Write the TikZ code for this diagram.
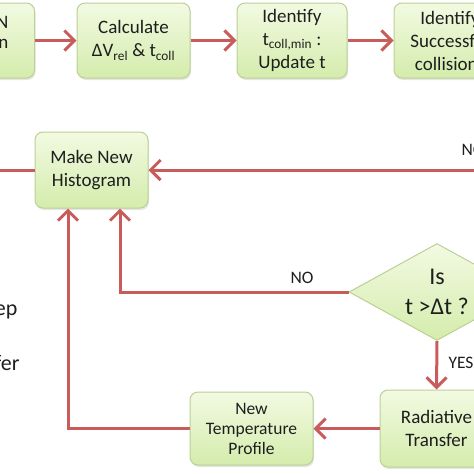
\documentclass[tikz,border=0pt]{standalone}
\usepackage{fontspec}
\setmainfont{Carlito}
\usepackage{tikz}
\usetikzlibrary{arrows.meta,shapes.geometric,shadows}
\definecolor{boxtop}{RGB}{242,250,226}
\definecolor{boxbot}{RGB}{212,236,172}
\definecolor{boxline}{RGB}{188,208,148}
\definecolor{flowred}{RGB}{200,92,90}
\definecolor{ink}{RGB}{30,30,30}

\begin{document}
\begin{tikzpicture}[x=1pt,y=-1pt,
  box/.style={rectangle, rounded corners=8pt, draw=boxline, line width=1pt,
    top color=boxtop, bottom color=boxbot, minimum width=113pt, minimum height=75pt,
    align=center, text=ink, font=\fontsize{19}{23}\selectfont,
    drop shadow={opacity=0.2, shadow xshift=1pt, shadow yshift=-2pt}},
  smallbox/.style={box, minimum width=123pt, minimum height=73pt, font=\fontsize{17.5}{20}\selectfont},
  test/.style={diamond, aspect=1.81, minimum width=176pt, minimum height=97pt, inner sep=0pt,
    draw=boxline, line width=1pt, top color=boxtop, bottom color=boxbot,
    align=center, text=ink, font=\fontsize{24}{30}\selectfont},
  line/.style={draw=flowred, line width=3pt},
  arr/.style={line, -{Straight Barb[length=10pt,width=20pt]}},
  lab/.style={text=ink, font=\fontsize{17.5}{20}\selectfont},
  side/.style={text=ink, font=\fontsize{22}{26}\selectfont}]
\clip (0,0) rectangle (474,474);

\node[box, anchor=east] (sort) at (35,40.5) {};
\node[text=ink, font=\fontsize{19}{20}\selectfont, align=right, anchor=east] (sorttext) at (12,32) {N\\n};
\node[box] (calc) at (133.5,40.5) {Calculate\\ΔV\textsubscript{rel} \& t\textsubscript{coll}};
\node[box, minimum width=110pt] (tmin) at (292,40.5) {Identify\\t\textsubscript{coll,min} :\\Update t};
\node[box, minimum width=112pt] (succ) at (450,40.5) {Identify\\Successful\\collisions};

\draw[arr] (sort.east) -- (calc.west);
\draw[arr] (calc.east) -- (tmin.west);
\draw[arr] (tmin.east) -- (succ.west);

\node[box, minimum height=76pt] (hist) at (91.5,170) {Make New\\Histogram};
\coordinate (histout) at (-10,170);
\coordinate (noin) at (484,170);
\draw[line] (hist.west) -- (histout);
\draw[arr] (noin) -- (hist.east);
\node[lab] (noa) at (473,150) {NO};

\node[test] (check) at (437,292) {Is\\t >Δt ?};
\draw[arr] (check.west) -| ([xshift=28.5pt]hist.south);
\node[lab] (nob) at (302,278) {NO};

\node[box, minimum height=77pt] (rad) at (436.5,428.5) {Radiative\\Transfer};
\draw[arr] (check.south) -- (rad.north);
\node[lab, anchor=west] (yes) at (445,363) {YES};

\node[smallbox] (temp) at (251.5,428.5) {New\\Temperature\\Profile};
\draw[arr] (rad.west) -- (temp.west -| temp.east);
\draw[arr] (temp.west) -| ([xshift=-23.5pt]hist.south);

\node[side, anchor=base east] (stepend) at (21,315) {ep};
\node[side, anchor=base east] (radend) at (23,370) {fer};
\end{tikzpicture}
\end{document}
